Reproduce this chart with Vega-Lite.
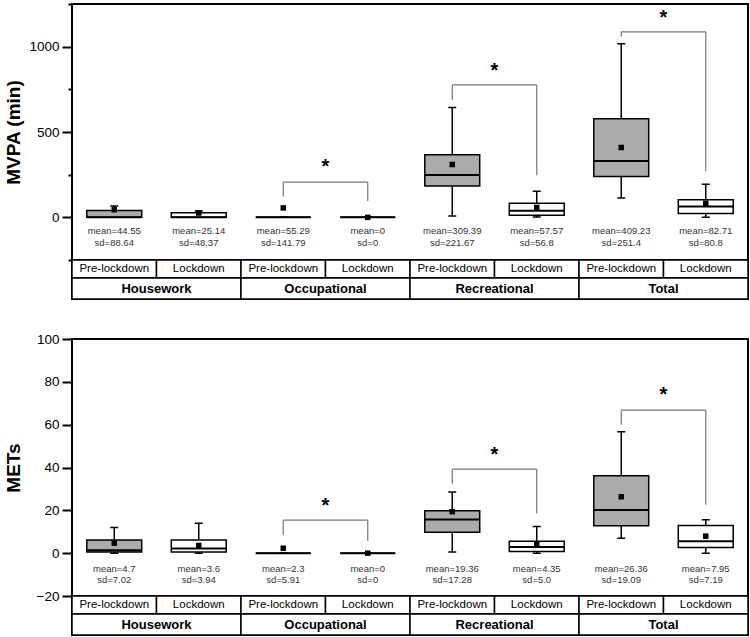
{
  "$schema": "https://vega.github.io/schema/vega-lite/v6.json",
  "padding": {"left": 3, "top": 2, "right": 0, "bottom": 0},
  "background": "white",
  "config": {
    "font": "Liberation Sans",
    "view": {"stroke": "black", "strokeWidth": 2},
    "axis": {"labelFont": "Liberation Sans", "titleFont": "Liberation Sans"}
  },
  "datasets": {
    "mvpa": [
      {"cell": "Housework Pre-lockdown", "period": "Pre-lockdown", "lo": 0, "q1": 0, "med": 1, "q3": 40, "hi": 66, "mean": 44.55, "meanText": "mean=44.55", "sdText": "sd=88.64"},
      {"cell": "Housework Lockdown", "period": "Lockdown", "lo": 0, "q1": 0, "med": 1, "q3": 27, "hi": 37, "mean": 25.14, "meanText": "mean=25.14", "sdText": "sd=48.37"},
      {"cell": "Occupational Pre-lockdown", "period": "Pre-lockdown", "lo": 0, "q1": 0, "med": 0, "q3": 0, "hi": 0, "mean": 55.29, "meanText": "mean=55.29", "sdText": "sd=141.79"},
      {"cell": "Occupational Lockdown", "period": "Lockdown", "lo": 0, "q1": 0, "med": 0, "q3": 0, "hi": 0, "mean": 0, "meanText": "mean=0", "sdText": "sd=0"},
      {"cell": "Recreational Pre-lockdown", "period": "Pre-lockdown", "lo": 8, "q1": 183, "med": 248, "q3": 367, "hi": 643, "mean": 309.39, "meanText": "mean=309.39", "sdText": "sd=221.67"},
      {"cell": "Recreational Lockdown", "period": "Lockdown", "lo": 2, "q1": 12, "med": 38, "q3": 82, "hi": 153, "mean": 57.57, "meanText": "mean=57.57", "sdText": "sd=56.8"},
      {"cell": "Total Pre-lockdown", "period": "Pre-lockdown", "lo": 114, "q1": 239, "med": 330, "q3": 578, "hi": 1017, "mean": 409.23, "meanText": "mean=409.23", "sdText": "sd=251.4"},
      {"cell": "Total Lockdown", "period": "Lockdown", "lo": 0, "q1": 23, "med": 64, "q3": 103, "hi": 194, "mean": 82.71, "meanText": "mean=82.71", "sdText": "sd=80.8"}
    ],
    "mets": [
      {"cell": "Housework Pre-lockdown", "period": "Pre-lockdown", "lo": 0, "q1": 0.6, "med": 1.4, "q3": 6.1, "hi": 12, "mean": 4.7, "meanText": "mean=4.7", "sdText": "sd=7.02"},
      {"cell": "Housework Lockdown", "period": "Lockdown", "lo": 0, "q1": 0.6, "med": 2.2, "q3": 6.2, "hi": 14, "mean": 3.6, "meanText": "mean=3.6", "sdText": "sd=3.94"},
      {"cell": "Occupational Pre-lockdown", "period": "Pre-lockdown", "lo": 0, "q1": 0, "med": 0, "q3": 0, "hi": 0, "mean": 2.3, "meanText": "mean=2.3", "sdText": "sd=5.91"},
      {"cell": "Occupational Lockdown", "period": "Lockdown", "lo": 0, "q1": 0, "med": 0, "q3": 0, "hi": 0, "mean": 0, "meanText": "mean=0", "sdText": "sd=0"},
      {"cell": "Recreational Pre-lockdown", "period": "Pre-lockdown", "lo": 0.6, "q1": 9.8, "med": 15.7, "q3": 19.8, "hi": 28.6, "mean": 19.36, "meanText": "mean=19.36", "sdText": "sd=17.28"},
      {"cell": "Recreational Lockdown", "period": "Lockdown", "lo": 0, "q1": 0.8, "med": 2.9, "q3": 5.6, "hi": 12.4, "mean": 4.35, "meanText": "mean=4.35", "sdText": "sd=5.0"},
      {"cell": "Total Pre-lockdown", "period": "Pre-lockdown", "lo": 7, "q1": 12.8, "med": 20.1, "q3": 36.1, "hi": 56.7, "mean": 26.36, "meanText": "mean=26.36", "sdText": "sd=19.09"},
      {"cell": "Total Lockdown", "period": "Lockdown", "lo": 0, "q1": 2.6, "med": 5.6, "q3": 12.9, "hi": 15.6, "mean": 7.95, "meanText": "mean=7.95", "sdText": "sd=7.19"}
    ],
    "brMvpa": [
      {"pre": "Occupational Pre-lockdown", "post": "Occupational Lockdown", "top": 206, "left": 122, "right": 95, "star": 316},
      {"pre": "Recreational Pre-lockdown", "post": "Recreational Lockdown", "top": 776, "left": 688, "right": 247, "star": 882},
      {"pre": "Total Pre-lockdown", "post": "Total Lockdown", "top": 1087, "left": 1058, "right": 270, "star": 1194}
    ],
    "brMets": [
      {"pre": "Occupational Pre-lockdown", "post": "Occupational Lockdown", "top": 15.4, "left": 8.4, "right": 5.7, "star": 24},
      {"pre": "Recreational Pre-lockdown", "post": "Recreational Lockdown", "top": 39.2, "left": 32.2, "right": 18.5, "star": 47.8},
      {"pre": "Total Pre-lockdown", "post": "Total Lockdown", "top": 66.8, "left": 60, "right": 22.6, "star": 75.5}
    ],
    "cells": [
      {"cell": "Housework Pre-lockdown", "label": "Pre-lockdown"},
      {"cell": "Housework Lockdown", "label": "Lockdown"},
      {"cell": "Occupational Pre-lockdown", "label": "Pre-lockdown"},
      {"cell": "Occupational Lockdown", "label": "Lockdown"},
      {"cell": "Recreational Pre-lockdown", "label": "Pre-lockdown"},
      {"cell": "Recreational Lockdown", "label": "Lockdown"},
      {"cell": "Total Pre-lockdown", "label": "Pre-lockdown"},
      {"cell": "Total Lockdown", "label": "Lockdown"}
    ],
    "groups": [
      {"group": "Housework"},
      {"group": "Occupational"},
      {"group": "Recreational"},
      {"group": "Total"}
    ]
  },
  "vconcat": [
    {
      "bounds": "flush",
      "spacing": 0,
      "vconcat": [
        {
          "width": 676,
          "height": 256,
          "layer": [
            {"data": {"name": "mvpa"}, "mark": {"type": "rule", "stroke": "black", "strokeWidth": 1.5},
             "encoding": {
               "x": {"field": "cell", "type": "nominal", "axis": null, "scale": {"domain": ["Housework Pre-lockdown","Housework Lockdown","Occupational Pre-lockdown","Occupational Lockdown","Recreational Pre-lockdown","Recreational Lockdown","Total Pre-lockdown","Total Lockdown"], "paddingInner": 0, "paddingOuter": 0}},
               "y": {"field": "lo", "type": "quantitative", "scale": {"domain": [-250, 1250], "nice": false, "zero": false},
                     "axis": {"values": [-250, 0, 250, 500, 750, 1000, 1250], "format": "d", "labelExpr": "datum.value % 500 === 0 ? datum.label : ''", "tickSize": {"condition": {"test": "datum.value % 500 === 0", "value": 10}, "value": 4}, "grid": false, "domain": false, "tickColor": "black", "tickWidth": 2, "labelFontSize": 13.5, "labelColor": "black", "labelPadding": 3, "title": "MVPA (min)", "titleFontSize": 19, "titleFontWeight": "bold", "titleColor": "black", "titleX": -49}},
               "y2": {"field": "hi"}
             }},
            {"data": {"name": "mvpa"}, "mark": {"type": "bar", "width": 8, "fill": "black", "stroke": "black", "strokeWidth": 1.5},
             "encoding": {"x": {"field": "cell", "type": "nominal"}, "y": {"field": "hi", "type": "quantitative"}, "y2": {"field": "hi"}}},
            {"data": {"name": "mvpa"}, "mark": {"type": "bar", "width": 8, "fill": "black", "stroke": "black", "strokeWidth": 1.5},
             "encoding": {"x": {"field": "cell", "type": "nominal"}, "y": {"field": "lo", "type": "quantitative"}, "y2": {"field": "lo"}}},
            {"data": {"name": "mvpa"}, "mark": {"type": "bar", "width": {"band": 0.65}, "stroke": "black", "strokeWidth": 1.5},
             "encoding": {"x": {"field": "cell", "type": "nominal"}, "y": {"field": "q1", "type": "quantitative"}, "y2": {"field": "q3"},
               "fill": {"field": "period", "type": "nominal", "scale": {"domain": ["Pre-lockdown", "Lockdown"], "range": ["#ababab", "#ffffff"]}, "legend": null}}},
            {"data": {"name": "mvpa"}, "mark": {"type": "bar", "width": {"band": 0.65}, "fill": "black", "stroke": "black", "strokeWidth": 2},
             "encoding": {"x": {"field": "cell", "type": "nominal"}, "y": {"field": "med", "type": "quantitative"}, "y2": {"field": "med"}}},
            {"data": {"name": "mvpa"}, "mark": {"type": "point", "shape": "square", "filled": true, "color": "black", "opacity": 1, "size": 30},
             "encoding": {"x": {"field": "cell", "type": "nominal"}, "y": {"field": "mean", "type": "quantitative"}}},
            {"data": {"name": "mvpa"}, "mark": {"type": "text", "fontSize": 9.5, "color": "#333333", "baseline": "middle"},
             "encoding": {"x": {"field": "cell", "type": "nominal"}, "y": {"datum": -82, "type": "quantitative"}, "text": {"field": "meanText"}}},
            {"data": {"name": "mvpa"}, "mark": {"type": "text", "fontSize": 9.5, "color": "#333333", "baseline": "middle"},
             "encoding": {"x": {"field": "cell", "type": "nominal"}, "y": {"datum": -152, "type": "quantitative"}, "text": {"field": "sdText"}}},
            {"data": {"name": "brMvpa"}, "mark": {"type": "rule", "stroke": "#777777", "strokeWidth": 1.2},
             "encoding": {"x": {"field": "pre", "type": "nominal"}, "x2": {"field": "post"}, "y": {"field": "top", "type": "quantitative"}}},
            {"data": {"name": "brMvpa"}, "mark": {"type": "rule", "stroke": "#777777", "strokeWidth": 1.2},
             "encoding": {"x": {"field": "pre", "type": "nominal"}, "y": {"field": "top", "type": "quantitative"}, "y2": {"field": "left"}}},
            {"data": {"name": "brMvpa"}, "mark": {"type": "rule", "stroke": "#777777", "strokeWidth": 1.2},
             "encoding": {"x": {"field": "post", "type": "nominal"}, "y": {"field": "top", "type": "quantitative"}, "y2": {"field": "right"}}},
            {"data": {"name": "brMvpa"}, "mark": {"type": "text", "text": "*", "fontSize": 20, "fontWeight": "bold", "baseline": "middle", "dy": 4, "color": "black"},
             "encoding": {"x": {"field": "pre", "type": "nominal", "bandPosition": 1}, "y": {"field": "star", "type": "quantitative"}}}
          ]
        },
        {
          "width": 676,
          "height": 18,
          "data": {"name": "cells"},
          "layer": [
            {"mark": {"type": "rect", "fill": "white", "stroke": "black", "strokeWidth": 1.5},
             "encoding": {"x": {"field": "cell", "type": "nominal", "axis": null, "scale": {"domain": ["Housework Pre-lockdown","Housework Lockdown","Occupational Pre-lockdown","Occupational Lockdown","Recreational Pre-lockdown","Recreational Lockdown","Total Pre-lockdown","Total Lockdown"], "paddingInner": 0, "paddingOuter": 0}}}},
            {"mark": {"type": "text", "fontSize": 11.5, "color": "black"},
             "encoding": {"x": {"field": "cell", "type": "nominal"}, "text": {"field": "label"}}}
          ]
        },
        {
          "width": 676,
          "height": 21,
          "data": {"name": "groups"},
          "layer": [
            {"mark": {"type": "rect", "fill": "white", "stroke": "black", "strokeWidth": 1.5},
             "encoding": {"x": {"field": "group", "type": "nominal", "axis": null, "scale": {"domain": ["Housework", "Occupational", "Recreational", "Total"], "paddingInner": 0, "paddingOuter": 0}}}},
            {"mark": {"type": "text", "fontSize": 13, "fontWeight": "bold", "color": "black"},
             "encoding": {"x": {"field": "group", "type": "nominal"}, "text": {"field": "group"}}}
          ]
        }
      ]
    },
    {
      "bounds": "flush",
      "spacing": 0,
      "vconcat": [
        {
          "width": 676,
          "height": 257,
          "layer": [
            {"data": {"name": "mets"}, "mark": {"type": "rule", "stroke": "black", "strokeWidth": 1.5},
             "encoding": {
               "x": {"field": "cell", "type": "nominal", "axis": null, "scale": {"domain": ["Housework Pre-lockdown","Housework Lockdown","Occupational Pre-lockdown","Occupational Lockdown","Recreational Pre-lockdown","Recreational Lockdown","Total Pre-lockdown","Total Lockdown"], "paddingInner": 0, "paddingOuter": 0}},
               "y": {"field": "lo", "type": "quantitative", "scale": {"domain": [-20, 100], "nice": false, "zero": false},
                     "axis": {"values": [-20, -10, 0, 10, 20, 30, 40, 50, 60, 70, 80, 90, 100], "format": "d", "labelExpr": "datum.value % 20 === 0 ? datum.label : ''", "tickSize": {"condition": {"test": "datum.value % 20 === 0", "value": 10}, "value": 4}, "grid": false, "domain": false, "tickColor": "black", "tickWidth": 2, "labelFontSize": 13.5, "labelColor": "black", "labelPadding": 3, "title": "METs", "titleFontSize": 19, "titleFontWeight": "bold", "titleColor": "black", "titleX": -49}},
               "y2": {"field": "hi"}
             }},
            {"data": {"name": "mets"}, "mark": {"type": "bar", "width": 8, "fill": "black", "stroke": "black", "strokeWidth": 1.5},
             "encoding": {"x": {"field": "cell", "type": "nominal"}, "y": {"field": "hi", "type": "quantitative"}, "y2": {"field": "hi"}}},
            {"data": {"name": "mets"}, "mark": {"type": "bar", "width": 8, "fill": "black", "stroke": "black", "strokeWidth": 1.5},
             "encoding": {"x": {"field": "cell", "type": "nominal"}, "y": {"field": "lo", "type": "quantitative"}, "y2": {"field": "lo"}}},
            {"data": {"name": "mets"}, "mark": {"type": "bar", "width": {"band": 0.65}, "stroke": "black", "strokeWidth": 1.5},
             "encoding": {"x": {"field": "cell", "type": "nominal"}, "y": {"field": "q1", "type": "quantitative"}, "y2": {"field": "q3"},
               "fill": {"field": "period", "type": "nominal", "scale": {"domain": ["Pre-lockdown", "Lockdown"], "range": ["#ababab", "#ffffff"]}, "legend": null}}},
            {"data": {"name": "mets"}, "mark": {"type": "bar", "width": {"band": 0.65}, "fill": "black", "stroke": "black", "strokeWidth": 2},
             "encoding": {"x": {"field": "cell", "type": "nominal"}, "y": {"field": "med", "type": "quantitative"}, "y2": {"field": "med"}}},
            {"data": {"name": "mets"}, "mark": {"type": "point", "shape": "square", "filled": true, "color": "black", "opacity": 1, "size": 30},
             "encoding": {"x": {"field": "cell", "type": "nominal"}, "y": {"field": "mean", "type": "quantitative"}}},
            {"data": {"name": "mets"}, "mark": {"type": "text", "fontSize": 9.5, "color": "#333333", "baseline": "middle"},
             "encoding": {"x": {"field": "cell", "type": "nominal"}, "y": {"datum": -7.5, "type": "quantitative"}, "text": {"field": "meanText"}}},
            {"data": {"name": "mets"}, "mark": {"type": "text", "fontSize": 9.5, "color": "#333333", "baseline": "middle"},
             "encoding": {"x": {"field": "cell", "type": "nominal"}, "y": {"datum": -12.6, "type": "quantitative"}, "text": {"field": "sdText"}}},
            {"data": {"name": "brMets"}, "mark": {"type": "rule", "stroke": "#777777", "strokeWidth": 1.2},
             "encoding": {"x": {"field": "pre", "type": "nominal"}, "x2": {"field": "post"}, "y": {"field": "top", "type": "quantitative"}}},
            {"data": {"name": "brMets"}, "mark": {"type": "rule", "stroke": "#777777", "strokeWidth": 1.2},
             "encoding": {"x": {"field": "pre", "type": "nominal"}, "y": {"field": "top", "type": "quantitative"}, "y2": {"field": "left"}}},
            {"data": {"name": "brMets"}, "mark": {"type": "rule", "stroke": "#777777", "strokeWidth": 1.2},
             "encoding": {"x": {"field": "post", "type": "nominal"}, "y": {"field": "top", "type": "quantitative"}, "y2": {"field": "right"}}},
            {"data": {"name": "brMets"}, "mark": {"type": "text", "text": "*", "fontSize": 20, "fontWeight": "bold", "baseline": "middle", "dy": 4, "color": "black"},
             "encoding": {"x": {"field": "pre", "type": "nominal", "bandPosition": 1}, "y": {"field": "star", "type": "quantitative"}}}
          ]
        },
        {
          "width": 676,
          "height": 18,
          "data": {"name": "cells"},
          "layer": [
            {"mark": {"type": "rect", "fill": "white", "stroke": "black", "strokeWidth": 1.5},
             "encoding": {"x": {"field": "cell", "type": "nominal", "axis": null, "scale": {"domain": ["Housework Pre-lockdown","Housework Lockdown","Occupational Pre-lockdown","Occupational Lockdown","Recreational Pre-lockdown","Recreational Lockdown","Total Pre-lockdown","Total Lockdown"], "paddingInner": 0, "paddingOuter": 0}}}},
            {"mark": {"type": "text", "fontSize": 11.5, "color": "black"},
             "encoding": {"x": {"field": "cell", "type": "nominal"}, "text": {"field": "label"}}}
          ]
        },
        {
          "width": 676,
          "height": 21,
          "data": {"name": "groups"},
          "layer": [
            {"mark": {"type": "rect", "fill": "white", "stroke": "black", "strokeWidth": 1.5},
             "encoding": {"x": {"field": "group", "type": "nominal", "axis": null, "scale": {"domain": ["Housework", "Occupational", "Recreational", "Total"], "paddingInner": 0, "paddingOuter": 0}}}},
            {"mark": {"type": "text", "fontSize": 13, "fontWeight": "bold", "color": "black"},
             "encoding": {"x": {"field": "group", "type": "nominal"}, "text": {"field": "group"}}}
          ]
        }
      ]
    }
  ],
  "spacing": 30
}
